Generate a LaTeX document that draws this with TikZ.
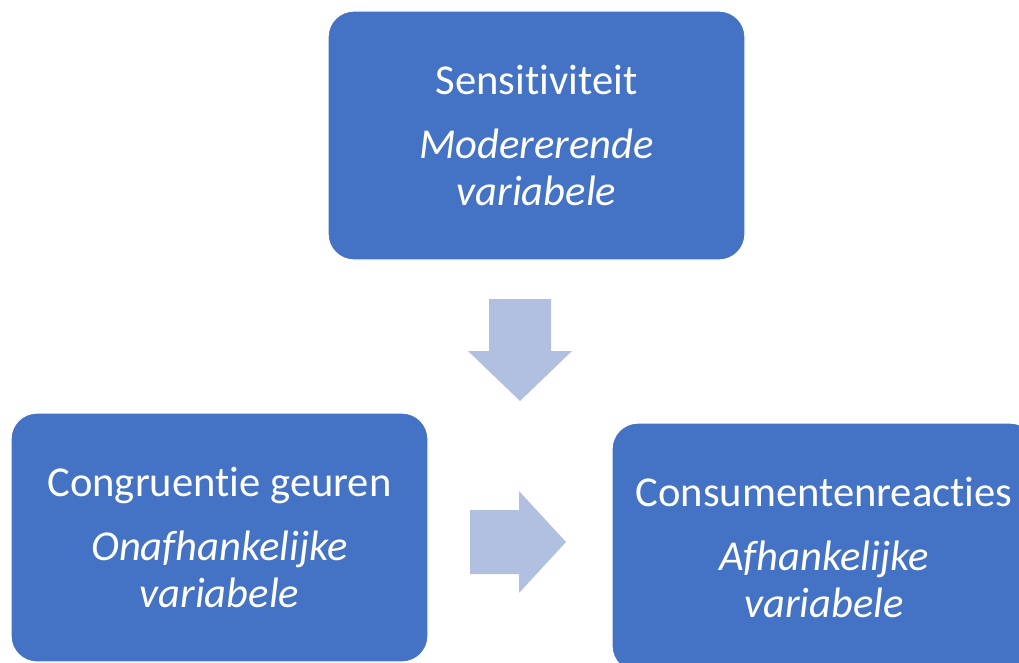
\documentclass[tikz,border=0pt]{standalone}
\usepackage{fontspec}
\setmainfont{Carlito}[Ligatures=NoCommon]
\usepackage{xcolor}
\usepackage{tikz}
\usetikzlibrary{positioning,calc}
\definecolor{boxfill}{HTML}{4472C4}
\definecolor{arrowfill}{HTML}{B1BFE0}
\tikzset{
  % --- variable boxes ---
  varbox/.style={draw=white, line width=1.2pt, fill=boxfill, rounded corners=26pt,
                 align=center, text=white, minimum width=417pt, minimum height=249pt,
                 inner sep=0pt, font=\fontsize{42.6}{47}\selectfont},
  % --- block arrows ---
  flowarrow/.style={fill=arrowfill},
}
\begin{document}
\begin{tikzpicture}[x=1pt,y=-1pt]
  \useasboundingbox (0,0) rectangle (1019,663);
  \clip (0,0) rectangle (1019,663);
  % boxes
  \node[varbox] (mod) at (536.5,135.5) {Sensitiviteit\\[17pt] \itshape Modererende\\ \itshape variabele};
  \node[varbox] (onaf) at (219.5,537.5) {Congruentie geuren\\[17pt] \itshape Onafhankelijke\\ \itshape variabele};
  \node[varbox,minimum width=424pt] (afh) at (824,547.5) {Consumentenreacties\\[17pt] \itshape Afhankelijke\\ \itshape variabele};
  % arrows
  \coordinate (dtop) at (520,299);
  \fill[flowarrow] (dtop) ++(-31,0) -- ++(62,0) -- ++(0,52) -- ++(21,0) -- ++(-52,50)
    -- ++(-52,-50) -- ++(21,0) -- cycle;
  \coordinate (rtail) at (470,542);
  \fill[flowarrow] (rtail) ++(0,-32) -- ++(49,0) -- ++(0,-19) -- ++(47,51) -- ++(-47,51)
    -- ++(0,-19) -- ++(-49,0) -- cycle;
\end{tikzpicture}
\end{document}
